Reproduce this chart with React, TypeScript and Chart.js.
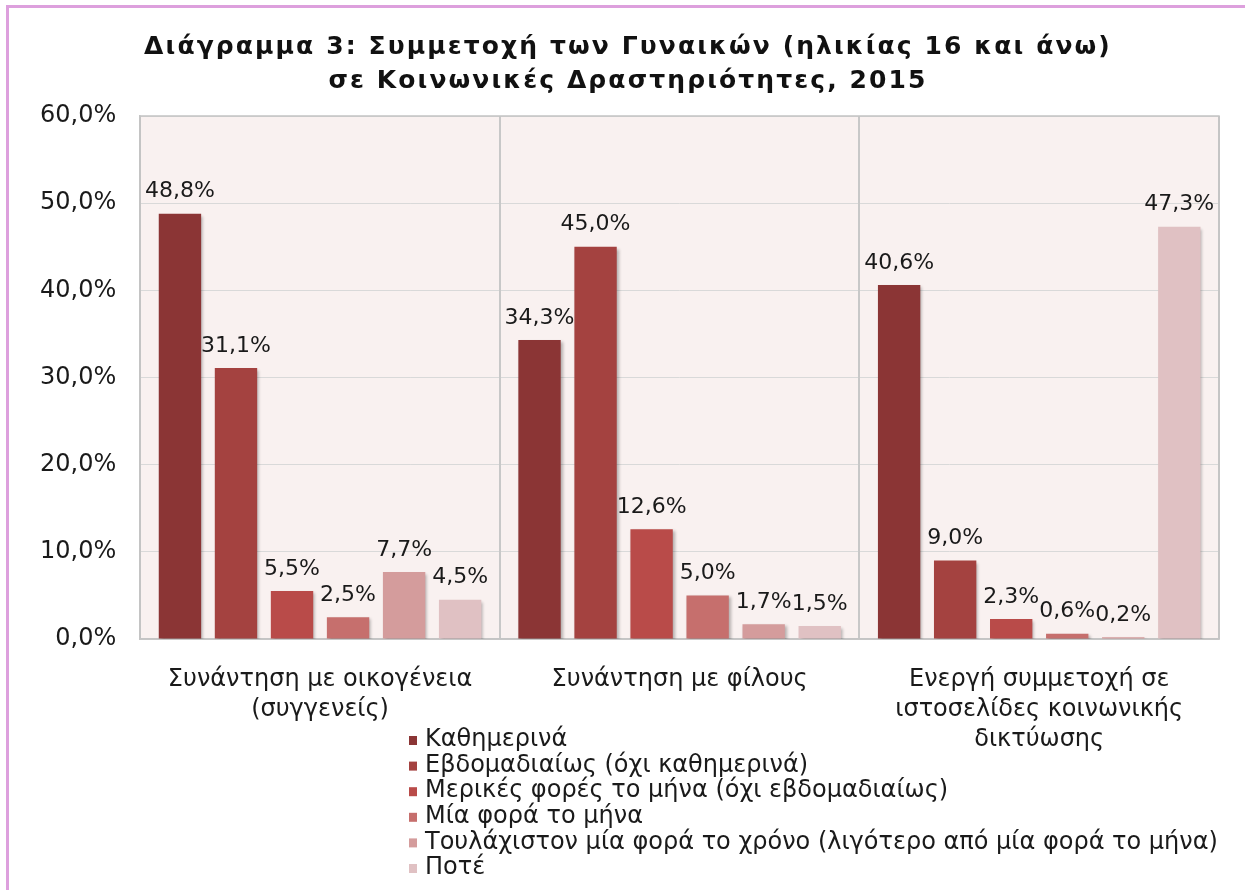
import React, { useEffect, useRef } from "react";
import { Chart, registerables } from "chart.js";
Chart.register(...registerables);

const FONT = "'DejaVu Sans', Verdana, sans-serif";

const titleLines = [
  "Διάγραμμα 3: Συμμετοχή των Γυναικών (ηλικίας 16 και άνω)",
  "σε Κοινωνικές Δραστηριότητες, 2015",
];

const categories = [
  ["Συνάντηση με οικογένεια", "(συγγενείς)"],
  ["Συνάντηση με φίλους"],
  ["Ενεργή συμμετοχή σε", "ιστοσελίδες κοινωνικής", "δικτύωσης"],
];

const seriesNames = [
  "Καθημερινά",
  "Εβδομαδιαίως (όχι καθημερινά)",
  "Μερικές φορές το μήνα (όχι εβδομαδιαίως)",
  "Μία φορά το μήνα",
  "Τουλάχιστον μία φορά το χρόνο (λιγότερο από μία φορά το μήνα)",
  "Ποτέ",
];

const daily = [48.8, 34.3, 40.6];
const weekly = [31.1, 45.0, 9.0];
const fewTimesMonth = [5.5, 12.6, 2.3];
const oncePerMonth = [2.5, 5.0, 0.6];
const oncePerYear = [7.7, 1.7, 0.2];
const never = [4.5, 1.5, 47.3];

const seriesValues = [daily, weekly, fewTimesMonth, oncePerMonth, oncePerYear, never];
const seriesColors = ["#8B3535", "#A44240", "#B94B49", "#C66F6D", "#D49C9C", "#E0C1C3"];

const yMin = 0;
const yMax = 60;
const yStep = 10;

const fmt = (v: number) => v.toFixed(1).replace(".", ",") + "%";

const bgPlugin = {
  id: "plotBg",
  beforeDraw(chart: any) {
    const { ctx, chartArea: a } = chart;
    ctx.save();
    ctx.fillStyle = "#F9F1F0";
    ctx.fillRect(a.left, a.top, a.right - a.left, a.bottom - a.top);
    ctx.restore();
  },
  beforeDatasetsDraw(chart: any) {
    const { ctx, chartArea: a } = chart;
    ctx.save();
    ctx.strokeStyle = "#c4c4c4";
    ctx.lineWidth = 1.5;
    ctx.strokeRect(a.left, a.top, a.right - a.left, a.bottom - a.top);
    ctx.restore();
    ctx.save();
    ctx.shadowColor = "rgba(0,0,0,0.28)";
    ctx.shadowBlur = 3;
    ctx.shadowOffsetX = 2;
    ctx.shadowOffsetY = 2;
  },
  afterDatasetsDraw(chart: any) {
    const { ctx } = chart;
    ctx.restore();
    ctx.save();
    ctx.font = `22px ${FONT}`;
    ctx.fillStyle = "#1a1a1a";
    ctx.textAlign = "center";
    ctx.textBaseline = "middle";
    chart.data.datasets.forEach((ds: any, i: number) => {
      const meta = chart.getDatasetMeta(i);
      meta.data.forEach((bar: any, j: number) => {
        ctx.fillText(fmt(ds.data[j]), bar.x, bar.y - 22);
      });
    });
    ctx.restore();
  },
};

const titlePlugin = {
  id: "wideTitle",
  afterDraw(chart: any) {
    const { ctx } = chart;
    ctx.save();
    ctx.font = `bold 25px ${FONT}`;
    (ctx as any).letterSpacing = "2.1px";
    ctx.fillStyle = "#111";
    ctx.textAlign = "center";
    ctx.textBaseline = "middle";
    titleLines.forEach((line, i) => {
      ctx.fillText(line, 628, 47 + i * 34);
    });
    ctx.restore();
  },
};

const legendPlugin = {
  id: "vLegend",
  afterDraw(chart: any) {
    const { ctx } = chart;
    ctx.save();
    ctx.font = `24px ${FONT}`;
    ctx.textBaseline = "middle";
    ctx.textAlign = "left";
    const x0 = 409;
    const y0 = 740;
    const dy = 25.6;
    chart.data.datasets.forEach((ds: any, i: number) => {
      const y = y0 + i * dy;
      ctx.fillStyle = ds.backgroundColor;
      ctx.fillRect(x0, y - 4, 8, 9);
      ctx.fillStyle = "#1a1a1a";
      ctx.fillText(ds.label, x0 + 16, y);
    });
    ctx.restore();
  },
};

export default function App() {
  const ref = useRef<HTMLCanvasElement | null>(null);
  useEffect(() => {
    if (!ref.current) return;
    const chart = new Chart(ref.current, {
      type: "bar",
      data: {
        labels: categories,
        datasets: seriesNames.map((name, i) => ({
          label: name,
          data: seriesValues[i],
          backgroundColor: seriesColors[i],
          borderWidth: 0,
          categoryPercentage: 0.935,
          barPercentage: 0.756,
        })),
      },
      options: {
        responsive: true,
        maintainAspectRatio: false,
        animation: false,
        layout: { padding: { top: 116, left: 16, right: 26, bottom: 0 } },
        plugins: {
          legend: { display: false },
          tooltip: { enabled: false },
          title: { display: false },
        },
        scales: {
          y: {
            min: yMin,
            max: yMax,
            ticks: {
              stepSize: yStep,
              callback: (v: any) => fmt(Number(v)),
              color: "#1a1a1a",
              font: { family: FONT, size: 24 },
              padding: 24,
            },
            grid: { color: "#d9d9d9", lineWidth: 1, drawTicks: false },
            border: { display: true, color: "#c4c4c4", width: 1.5 },
          },
          x: {
            ticks: {
              color: "#1a1a1a",
              font: { family: FONT, size: 24, lineHeight: 30 / 24 },
              padding: 26,
              maxRotation: 0,
              autoSkip: false,
            },
            grid: { color: "#c8c8c8", lineWidth: 2, drawTicks: false, offset: true },
            border: { display: true, color: "#c4c4c4", width: 1.5 },
            afterFit: (s: any) => {
              s.height = 251;
            },
          },
        },
      },
      plugins: [bgPlugin, titlePlugin, legendPlugin],
    });
    return () => chart.destroy();
  }, []);

  return (
    <div style={{ position: "absolute", left: 0, top: 0, width: 1245, height: 890, overflow: "hidden", background: "#fff" }}>
      <div
        style={{
          position: "absolute",
          left: 6,
          top: 5,
          width: 1300,
          height: 950,
          borderTop: "3px solid #DDA0DD",
          borderLeft: "3px solid #DDA0DD",
        }}
      />
      <div style={{ position: "absolute", left: 0, top: 0, width: 1245, height: 890 }}>
        <canvas ref={ref} />
      </div>
    </div>
  );
}
